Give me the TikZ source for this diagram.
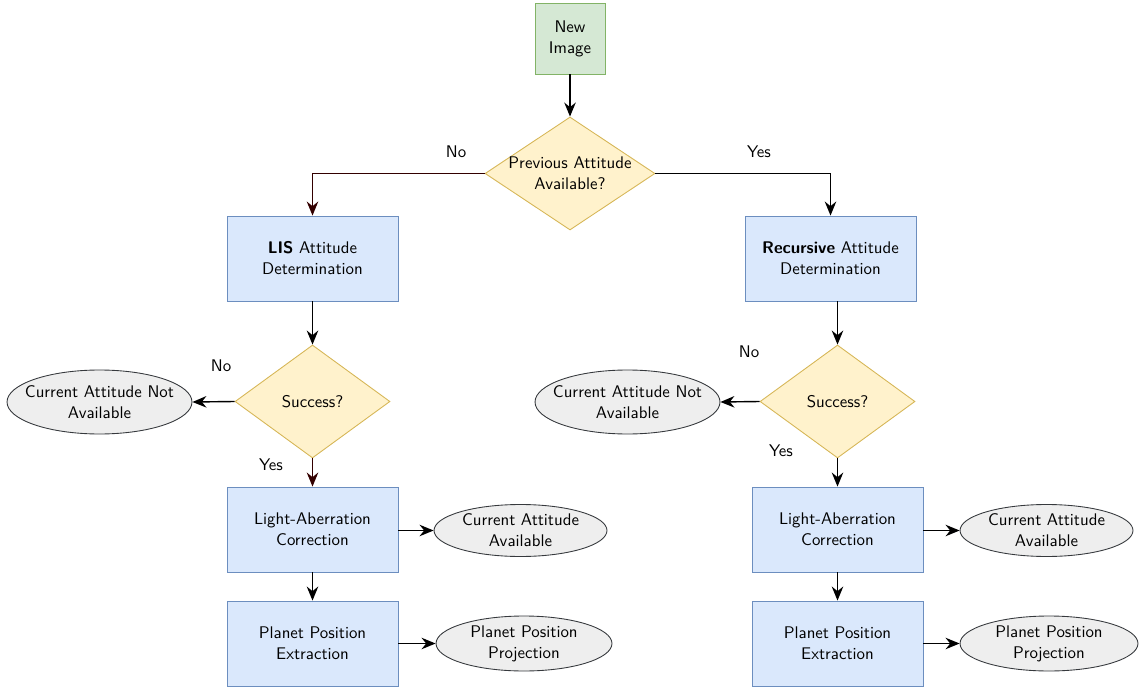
\documentclass[tikz,border=0pt]{standalone}
\usetikzlibrary{shapes.geometric,arrows.meta}
\definecolor{startfill}{HTML}{D5E8D4}
\definecolor{startline}{HTML}{82B366}
\definecolor{decfill}{HTML}{FFF2CC}
\definecolor{decline}{HTML}{D6B656}
\definecolor{boxfill}{HTML}{DAE8FC}
\definecolor{boxline}{HTML}{6C8EBF}
\definecolor{termfill}{HTML}{EEEEEE}
\definecolor{termline}{HTML}{36393D}
\definecolor{noline}{HTML}{330000}

\begin{document}
\begin{tikzpicture}[x=0.02cm, y=-0.02cm,
  every node/.style={font=\sffamily\fontsize{9.6}{11.9}\selectfont, align=center},
  start/.style={rectangle, draw=startline, fill=startfill, line width=0.5pt, minimum width=1.4cm, minimum height=1.42cm, inner sep=0pt},
  box/.style={rectangle, draw=boxline, fill=boxfill, line width=0.5pt, minimum width=3.42cm, minimum height=1.7cm, inner sep=0pt},
  dec/.style={diamond, aspect=1.5, draw=decline, fill=decfill, line width=0.5pt, minimum width=3.1cm, minimum height=2.26cm, inner xsep=-8pt, inner ysep=0pt},
  term/.style={ellipse, draw=termline, fill=termfill, line width=0.5pt, minimum width=3.7cm, minimum height=1.28cm, inner xsep=-6pt, inner ysep=0pt},
  flow/.style={-{Stealth[length=2.8mm, width=2.3mm]}, line width=0.8pt}]
\useasboundingbox (0,0) rectangle (1145,692);
\node[start] (T0) at (570,38.5) {New\\Image};
\node[dec, minimum width=3.4cm] (T1) at (570,173.5) {Previous Attitude\\Available?};
\node[box] (L1) at (312.5,258.5) {\textbf{LIS} Attitude\\Determination};
\node[box] (R1) at (830.5,258.5) {\textbf{Recursive} Attitude\\Determination};
\node[dec] (L2) at (312.5,401.5) {Success?};
\node[dec] (R2) at (837.5,401.5) {Success?};
\node[term] (L3) at (99.5,402) {Current Attitude Not\\Available};
\node[term] (R3) at (627.5,402) {Current Attitude Not\\Available};
\node[box] (L4) at (312.5,529.5) {Light-Aberration\\Correction};
\node[box] (R4) at (837.5,529.5) {Light-Aberration\\Correction};
\node[term, minimum width=3.46cm, minimum height=1.04cm] (L5) at (520.5,530.5) {Current Attitude\\Available};
\node[term, minimum width=3.46cm, minimum height=1.04cm] (R5) at (1046.5,530.5) {Current Attitude\\Available};
\node[box] (L6) at (312.5,643.5) {Planet Position\\Extraction};
\node[box] (R6) at (837.5,643.5) {Planet Position\\Extraction};
\node[term, minimum width=3.52cm, minimum height=1.1cm] (L7) at (524,643.5) {Planet Position\\Projection};
\node[term, minimum width=3.56cm, minimum height=1.1cm] (R7) at (1049,643.5) {Planet Position\\Projection};
\node (T1No) at (456,152) {No};
\node (T1Yes) at (759,152) {Yes};
\node (L2No) at (221,366) {No};
\node (L2Yes) at (271,465) {Yes};
\node (R2No) at (749,352) {No};
\node (R2Yes) at (781,451) {Yes};
\draw[flow] (T0) -- (T1);
\draw[flow, noline] (T1.west) -| (L1.north);
\draw[flow] (T1.east) -| (R1.north);
\draw[flow] (L1) -- (L2);
\draw[flow] (R1.south -| R2.north) -- (R2.north);
\draw[flow] (L2.west) -- (L3.east);
\draw[flow] (R2.west) -- (R3.east);
\draw[flow, noline] (L2) -- (L4);
\draw[flow] (R2) -- (R4);
\draw[flow] (L4.east |- L5.west) -- (L5.west);
\draw[flow] (R4.east |- R5.west) -- (R5.west);
\draw[flow] (L4) -- (L6);
\draw[flow] (R4) -- (R6);
\draw[flow] (L6) -- (L7);
\draw[flow] (R6) -- (R7);
\end{tikzpicture}
\end{document}
